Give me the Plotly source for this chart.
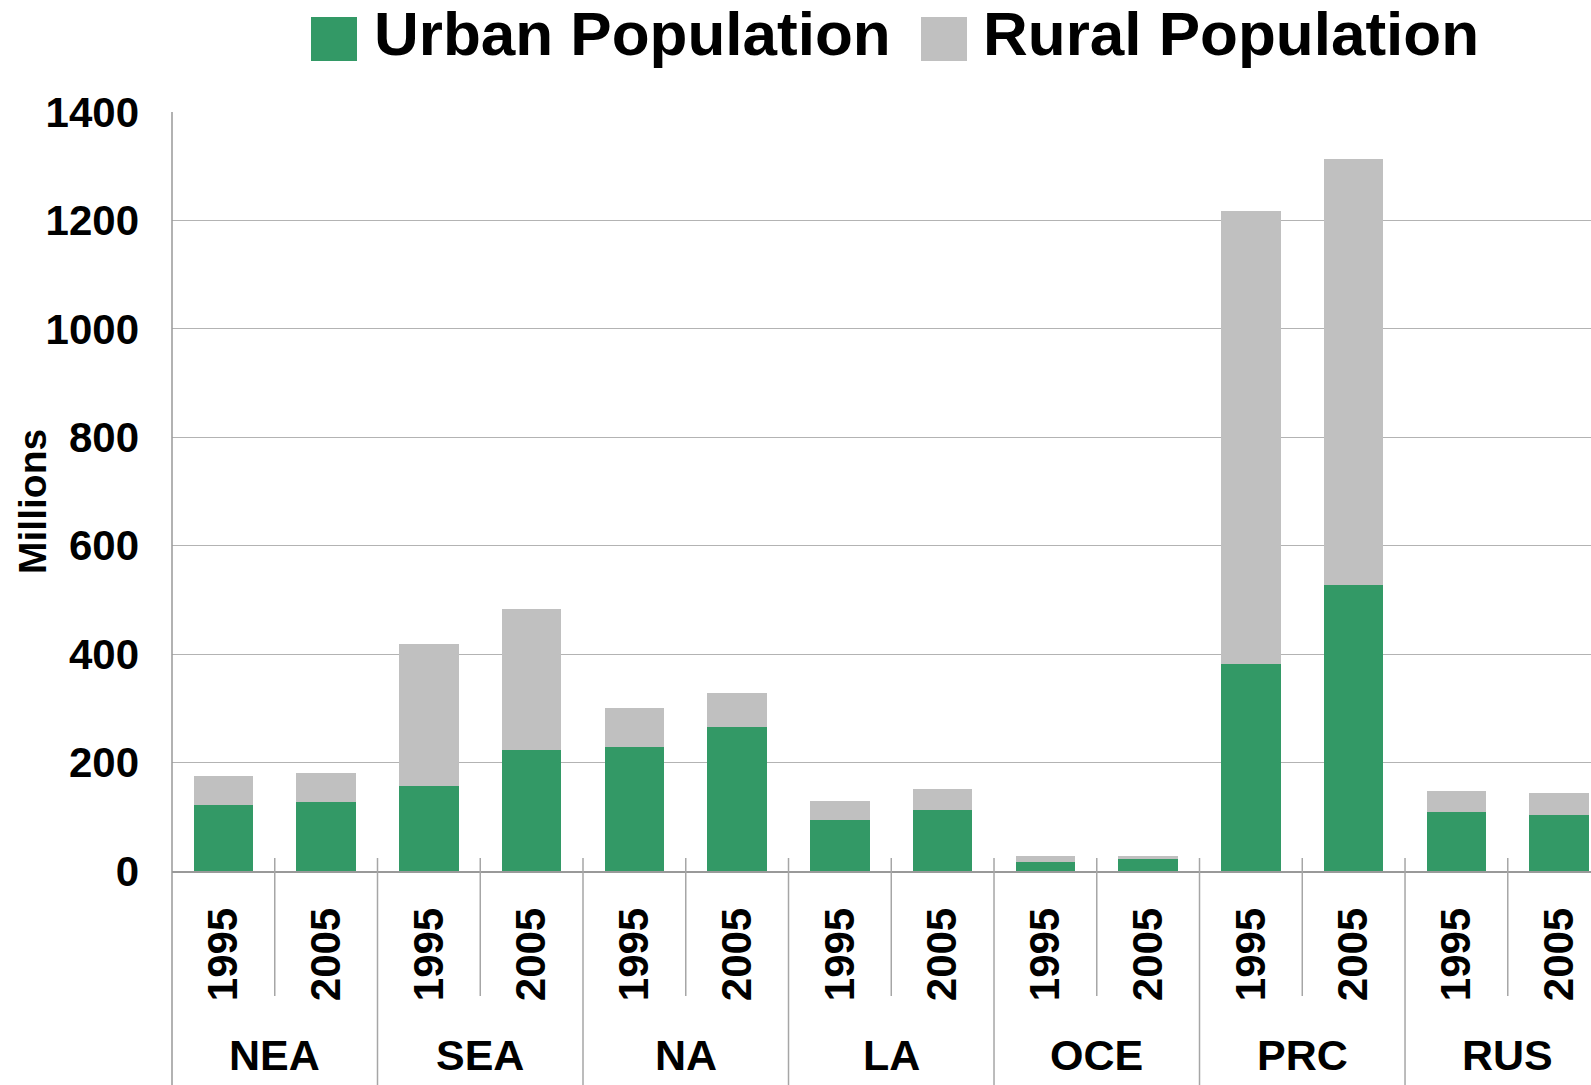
import plotly.graph_objects as go

# Population by region, 1995 vs 2005 (millions)
regions = ["NEA", "SEA", "NA", "LA", "OCE", "PRC", "RUS"]
years = ["1995", "2005"]
urban = [122, 128, 156, 224, 229, 266, 95, 113, 17, 23, 381, 528, 109, 104]
rural = [54, 53, 263, 260, 72, 63, 35, 39, 11, 5, 837, 786, 39, 39]
y_ticks = [0, 200, 400, 600, 800, 1000, 1200, 1400]

GREEN = "#339966"
GREY = "#c0c0c0"
LINE = "#a6a6a6"
FONT = "Liberation Sans, Arial, sans-serif"

W, H = 1591, 1085
ML, MT, MB = 172, 112, 214
plot_w = W - ML
plot_h = H - MT - MB

n_cat = len(regions) * len(years)
x_idx = list(range(n_cat))
tick_text = [years[i % len(years)] for i in x_idx]
x_lo = -0.5
x_hi = 13.31


def px_to_xpaper(px):
    return (px - ML) / plot_w


def px_to_ypaper(py):
    return (MT + plot_h - py) / plot_h


def cat_to_xpaper(v):
    return (v - x_lo) / (x_hi - x_lo)


fig = go.Figure()
fig.add_trace(go.Bar(x=x_idx, y=urban, name="Urban Population",
                     marker=dict(color=GREEN, line=dict(width=0)), width=0.58))
fig.add_trace(go.Bar(x=x_idx, y=rural, name="Rural Population",
                     marker=dict(color=GREY, line=dict(width=0)), width=0.58))

shapes = []
# dividers between years (short) and between regions (long)
for k in range(n_cat):
    boundary = k + 0.5
    if boundary > x_hi:
        break
    is_region = (k + 1) % len(years) == 0
    shapes.append(dict(type="line", xref="paper", yref="paper",
                       x0=cat_to_xpaper(boundary), x1=cat_to_xpaper(boundary),
                       y0=13 / plot_h,
                       y1=px_to_ypaper(1085 if is_region else 996),
                       line=dict(color=LINE, width=1.5)))
# left axis line, running down through the label band
shapes.append(dict(type="line", xref="paper", yref="paper", x0=0, x1=0,
                   y0=px_to_ypaper(1085), y1=1,
                   line=dict(color="#999999", width=1.5)))

annotations = []
# region group labels
for r, name in enumerate(regions):
    centre = r * len(years) + (len(years) - 1) / 2
    if centre > x_hi:
        continue
    annotations.append(dict(x=cat_to_xpaper(centre), y=px_to_ypaper(1055),
                            xref="paper", yref="paper", text=f"<b>{name}</b>",
                            showarrow=False, xanchor="center", yanchor="middle",
                            font=dict(family=FONT, size=43, color="black")))

# y-axis caption
annotations.append(dict(x=px_to_xpaper(33), y=px_to_ypaper(502), xref="paper", yref="paper",
                        text="<b>Millions</b>", textangle=-90, showarrow=False,
                        xanchor="center", yanchor="middle",
                        font=dict(family=FONT, size=39, color="black")))

# legend: large swatches with labels
legend_items = [("Urban Population", GREEN, 311, 372),
                ("Rural Population", GREY, 921, 981)]
for label, colour, sw_x, tx_x in legend_items:
    shapes.append(dict(type="rect", xref="paper", yref="paper",
                       x0=px_to_xpaper(sw_x), x1=px_to_xpaper(sw_x + 46),
                       y0=px_to_ypaper(61), y1=px_to_ypaper(17),
                       fillcolor=colour, line=dict(width=0)))
    annotations.append(dict(x=px_to_xpaper(tx_x), y=px_to_ypaper(33), xref="paper", yref="paper",
                            text=f"<b>{label}</b>", showarrow=False,
                            xanchor="left", yanchor="middle",
                            font=dict(family=FONT, size=62, color="black")))

fig.update_layout(
    width=W, height=H,
    margin=dict(l=ML, r=0, t=MT, b=MB, pad=0),
    plot_bgcolor="white", paper_bgcolor="white",
    barmode="stack", bargap=0,
    showlegend=False,
    shapes=shapes, annotations=annotations,
    font=dict(family=FONT, color="black"),
)
fig.update_xaxes(
    range=[x_lo, x_hi], tickmode="array", tickvals=x_idx,
    ticktext=[f"<b>{t}</b>" for t in tick_text],
    tickangle=-90, tickfont=dict(family=FONT, size=42, color="black"),
    ticks="", ticklabelstandoff=18,
    showgrid=False, zeroline=False,
    showline=True, linecolor="#999999", linewidth=2,
    automargin=False, fixedrange=True,
)
fig.update_yaxes(
    range=[0, 1400], tickmode="array", tickvals=y_ticks,
    tickfont=dict(family=FONT, size=42, color="black", weight="bold"),
    ticks="", ticklabelstandoff=32,
    showgrid=True, gridcolor="#b3b3b3", gridwidth=1.3,
    zeroline=False, showline=False,
    automargin=False, fixedrange=True,
)

fig.write_html("out.html", config={"displayModeBar": False})
